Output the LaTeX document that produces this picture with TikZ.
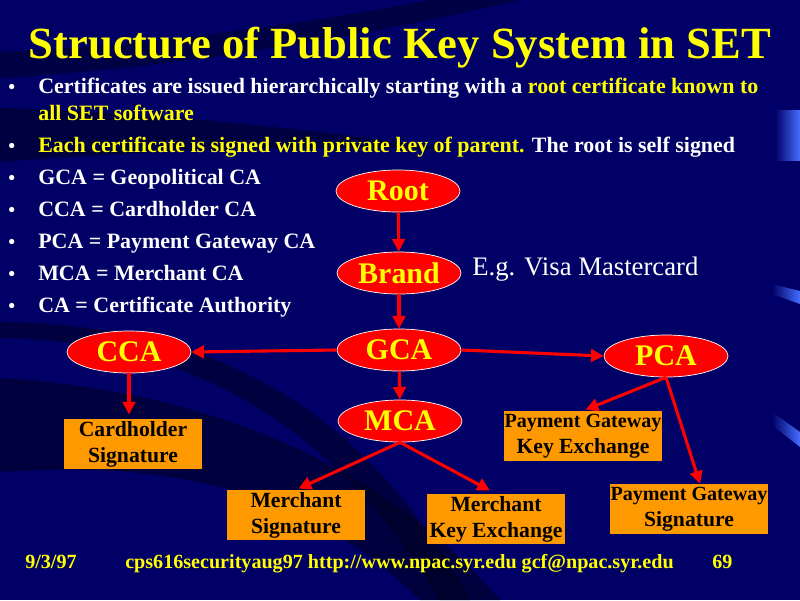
\documentclass[tikz,border=0pt]{standalone}
\usepackage{fontspec}
\setmainfont{Liberation Serif}
\usepackage{xcolor}
\usepackage{tikz}
\usetikzlibrary{
    arrows.meta,
    positioning,
    shapes.geometric,
    calc,
}

\definecolor{slidebg}{RGB}{0,0,102}
\definecolor{slidedark}{RGB}{0,0,30}
\definecolor{accentblue}{RGB}{70,110,255}
\definecolor{caRed}{RGB}{255,0,0}
\definecolor{keyOrange}{RGB}{255,153,0}
\definecolor{textYellow}{RGB}{255,255,0}

\newcommand{\pgsize}{\fontsize{14.3}{16}\selectfont}

\begin{document}
\begin{tikzpicture}[
        x=0.025cm, y=-0.025cm,
        ca/.style={
            ellipse, draw=white, line width=0.5pt, fill=caRed,
            minimum width=3.1cm, minimum height=1.05cm, inner sep=0pt,
            text=textYellow, font=\fontsize{21.3}{21.3}\selectfont\bfseries
        },
        keybox/.style={
            rectangle, fill=keyOrange, minimum width=#1, minimum height=1.25cm,
            inner sep=0pt, align=center, text=black,
            font=\fontsize{15.4}{18.5}\selectfont\bfseries
        },
        keybox/.default=3.45cm,
        arrow/.style={-{Triangle[length=9pt,width=9pt]}, line width=2.2pt, caRed},
        bullet/.style={anchor=base west, inner sep=0pt, text=white,
            font=\fontsize{15.6}{18}\selectfont\bfseries},
        dot/.style={anchor=base west, inner sep=0pt, text=white,
            font=\fontsize{13.9}{17}\selectfont\bfseries},
        footer/.style={anchor=base west, inner sep=0pt, text=textYellow,
            font=\fontsize{14.3}{16}\selectfont\bfseries},
    ]

    % ── Background ──
    \useasboundingbox (0,0) rectangle (800,600);
    \fill[slidebg] (0,0) rectangle (800,600);
    \fill[slidedark, opacity=0.45] (0,52) .. controls (150,45) and (300,25) .. (430,0)
        -- (520,0) .. controls (350,40) and (150,70) .. (0,78) -- cycle;
    \fill[slidedark, opacity=0.5] (0,108) .. controls (150,112) and (300,128) .. (460,150)
        .. controls (300,145) and (150,150) .. (0,162) -- cycle;
    \fill[slidedark, opacity=0.5] (0,322) .. controls (180,324) and (350,380) .. (470,600)
        -- (440,600) .. controls (320,400) and (160,340) .. (0,338) -- cycle;
    \fill[slidedark, opacity=0.55] (0,378) .. controls (200,390) and (380,460) .. (500,600)
        -- (420,600) .. controls (300,480) and (150,462) .. (0,472) -- cycle;
    \shade[left color=slidebg, right color=accentblue] (775,110) rectangle (800,160);
    \shade[left color=slidebg, right color=accentblue] (772,284) -- (800,291) -- (800,304) -- (772,294) -- cycle;
    \shade[left color=slidebg, right color=accentblue] (772,412) -- (800,432) -- (800,447) -- (772,425) -- cycle;

    % ── Title ──
    \node[anchor=base, inner sep=0pt, text=textYellow,
        font=\fontsize{31.7}{31.7}\selectfont\bfseries] (title) at (400,58)
        {Structure of Public Key System in SET};

    % ── Bullets ──
    \node[dot] (d1) at (8,93) {\textbullet};
    \node[bullet] (b1) at (38,93)
        {Certificates are issued hierarchically starting with a \textcolor{textYellow}{root certificate known to}};
    \node[bullet, text=textYellow] (b1b) at (38,120) {all SET software};
    \node[dot] (d2) at (8,152) {\textbullet};
    \node[bullet] (b2) at (38,152)
        {\textcolor{textYellow}{Each certificate is signed with private key of parent.} The root is self signed};
    \node[dot] (d3) at (8,184) {\textbullet};
    \node[bullet] (b3) at (38,184) {GCA = Geopolitical CA};
    \node[dot] (d4) at (8,216) {\textbullet};
    \node[bullet] (b4) at (38,216) {CCA = Cardholder CA};
    \node[dot] (d5) at (8,248) {\textbullet};
    \node[bullet] (b5) at (38,248) {PCA = Payment Gateway CA};
    \node[dot] (d6) at (8,280) {\textbullet};
    \node[bullet] (b6) at (38,280) {MCA = Merchant CA};
    \node[dot] (d7) at (8,312) {\textbullet};
    \node[bullet] (b7) at (38,312) {CA = Certificate Authority};

    % ── Certificate authorities ──
    \node[ca] (root) at (398,191) {Root};
    \node[ca] (brand) at (399,273) {Brand};
    \node[ca] (gca) at (399,350) {GCA};
    \node[ca] (cca) at (129,352) {CCA};
    \node[ca] (pca) at (666,356) {PCA};
    \node[ca] (mca) at (400,421) {MCA};

    \node[anchor=base west, inner sep=0pt, text=white,
        font=\fontsize{19}{19}\selectfont] (eg) at (472,275) {E.g. Visa Mastercard};

    % ── Key pairs ──
    \node[keybox] (chsig) at (133,444) {Cardholder\\Signature};
    \node[keybox=3.425cm] (msig) at (296,515) {Merchant\\Signature};
    \node[keybox=3.425cm] (mkex) at (496,519) {Merchant\\Key Exchange};
    \node[keybox=3.95cm] (pgkex) at (583,436) {{\pgsize Payment Gateway}\\Key Exchange};
    \node[keybox=3.95cm] (pgsig) at (689,509) {{\pgsize Payment Gateway}\\Signature};

    % ── Arrows ──
    \draw[arrow] (root) -- (brand);
    \draw[arrow] (brand) -- (gca);
    \draw[arrow] (gca.west) -- (cca.east);
    \draw[arrow] (gca.east) -- (pca.west);
    \draw[arrow] (gca) -- (mca);
    \draw[arrow, shorten >=3pt] (cca.south) -- (cca.south |- chsig.north);
    \draw[arrow, shorten >=2pt] (mca.south) -- (msig.north);
    \draw[arrow, shorten >=5pt] (mca.south) -- (mkex.north);
    \draw[arrow, shorten >=2pt] (pca.south) -- (pgkex.north);
    \draw[arrow] (pca.south) -- ($(pgsig.north)+(11,0)$);

    % ── Footer ──
    \node[footer] (date) at (25,568) {9/3/97};
    \node[footer] (source) at (125,568) {cps616securityaug97 http://www.npac.syr.edu gcf@npac.syr.edu};
    \node[footer] (page) at (712,568) {69};

\end{tikzpicture}
\end{document}
